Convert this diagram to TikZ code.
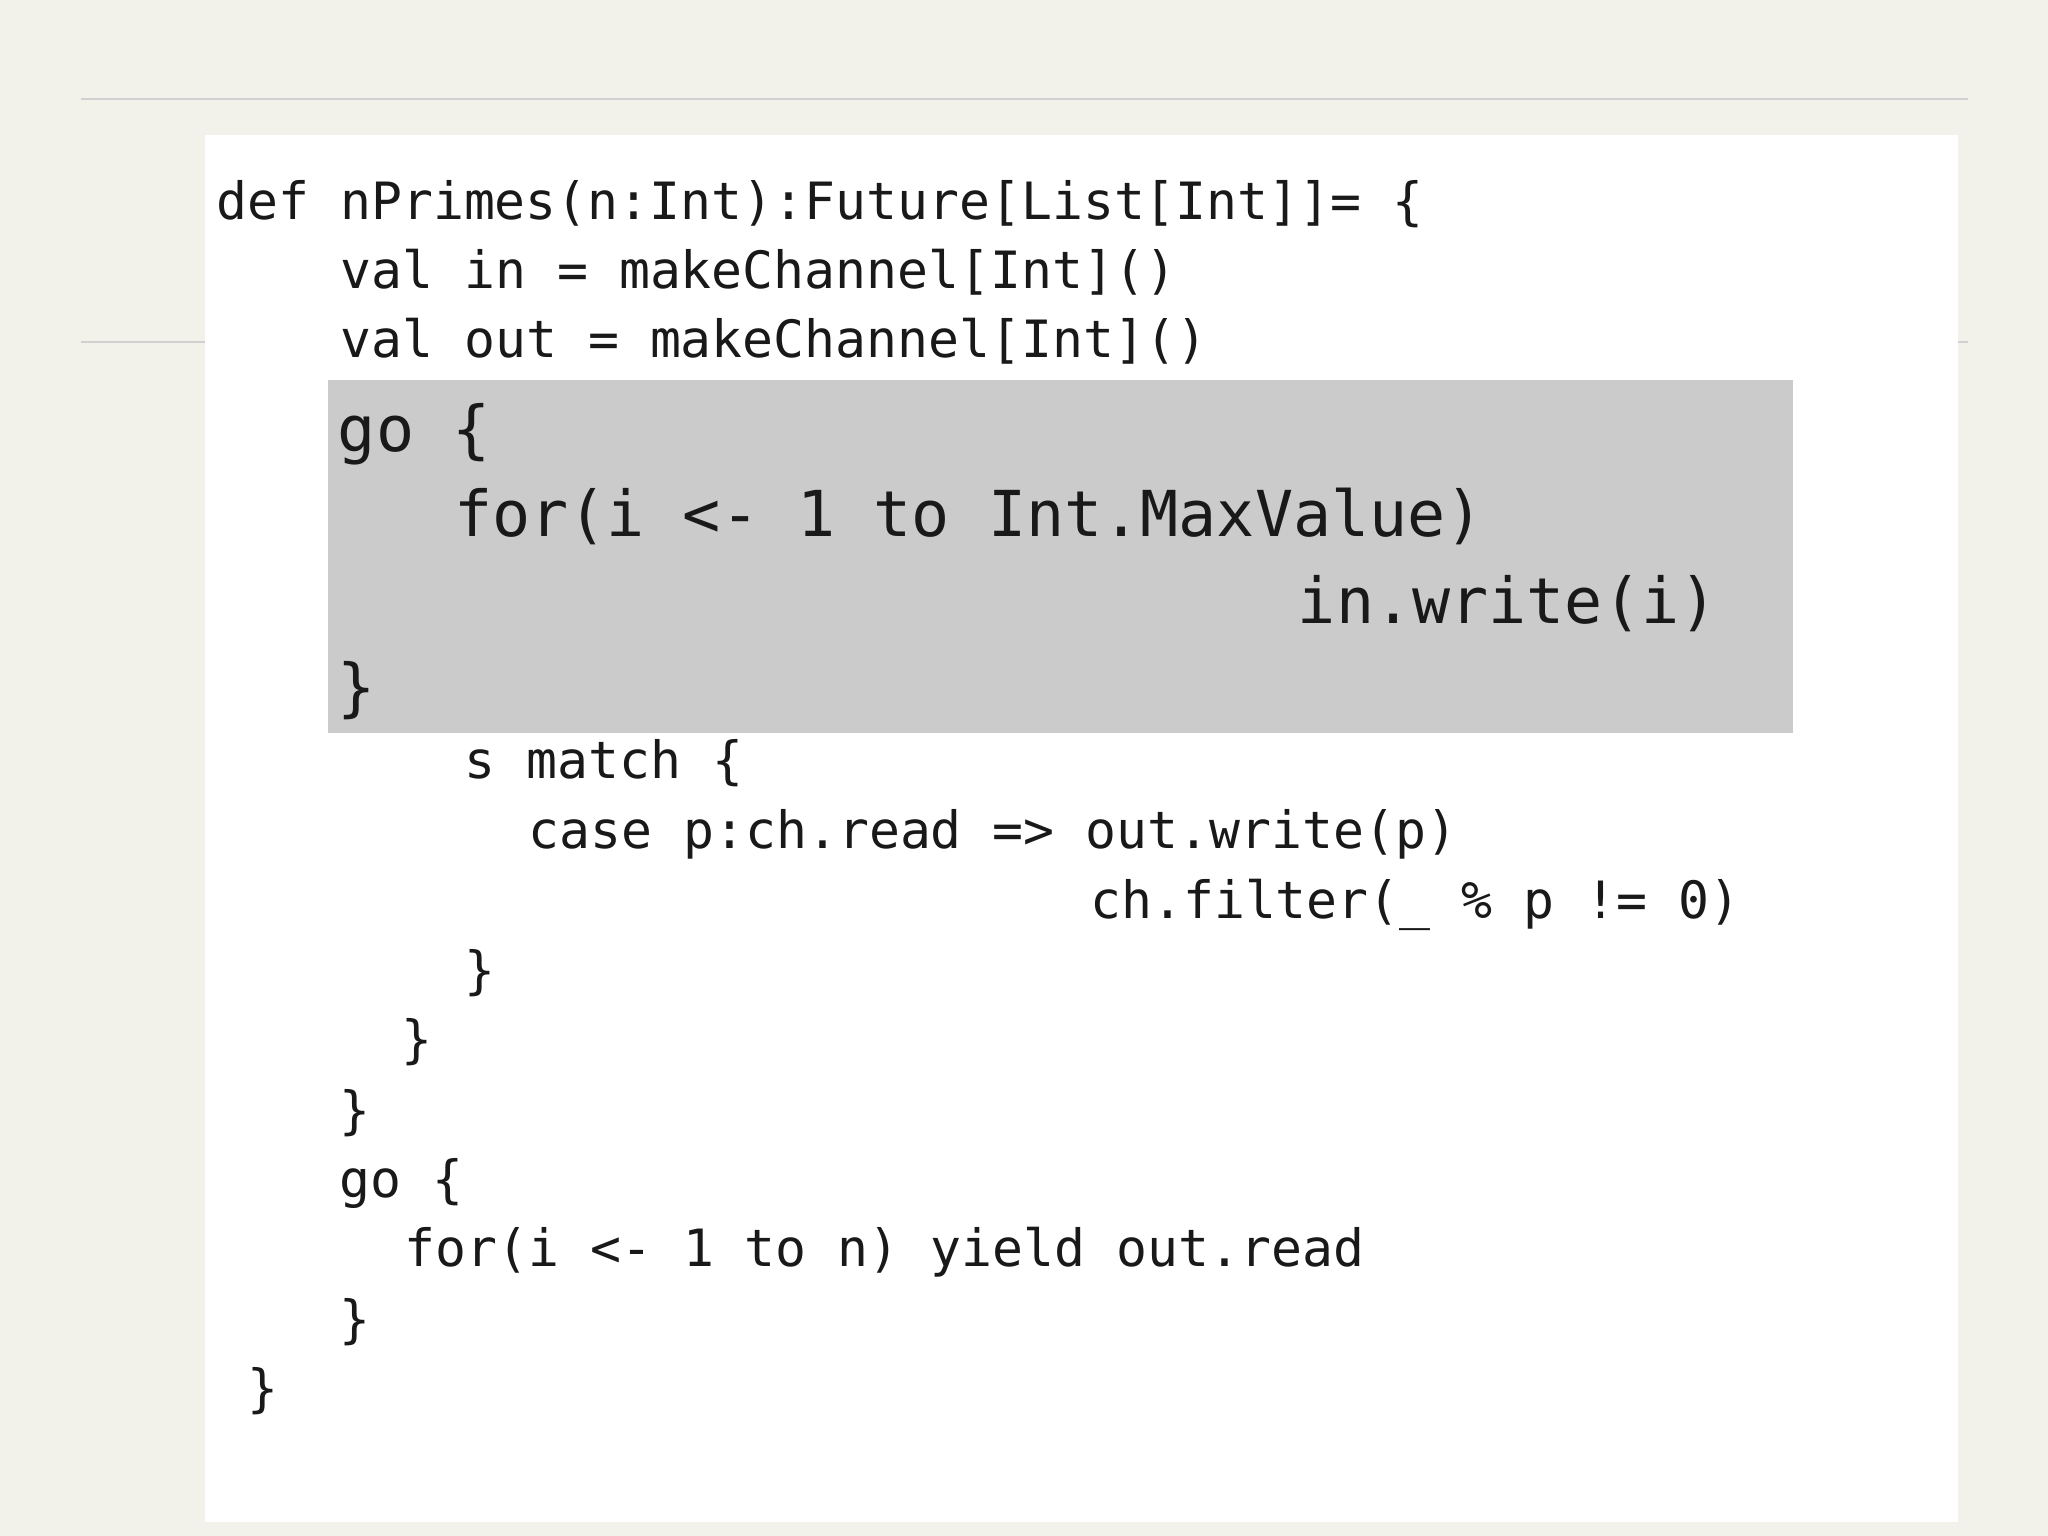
\documentclass[tikz,border=0pt]{standalone}
\usepackage{fontspec}
\setmonofont{DejaVu Sans Mono}
\begin{document}
\begin{tikzpicture}[x=1cm,y=-1cm,
  sm/.style={anchor=base west,inner sep=0pt,font=\ttfamily\fontsize{11.2pt}{13pt}\selectfont,text=black!90},
  bg/.style={anchor=base west,inner sep=0pt,font=\ttfamily\fontsize{13.8pt}{16pt}\selectfont,text=black!90}]
\definecolor{bgc}{HTML}{F2F1EA}
\definecolor{boxc}{HTML}{CBCBCB}
\useasboundingbox (0,0) rectangle (15.68,11.76);
\fill[bgc] (0,0) rectangle (15.68,11.76);
\draw[black!18,line width=0.4pt] (0.62,0.76) -- (15.07,0.76);
\draw[black!18,line width=0.4pt] (0.62,2.62) -- (15.07,2.62);
\fill[white] (1.57,1.03) rectangle (14.99,11.65);
\fill[boxc] (2.51,2.91) rectangle (13.73,5.61);
\node[sm] (l1) at (1.65,1.68) {def nPrimes(n:Int):Future[List[Int]]= \{};
\node[sm] (l2) at (2.60,2.21) {val in = makeChannel[Int]()};
\node[sm] (l3) at (2.60,2.74) {val out = makeChannel[Int]()};
\node[bg] (b1) at (2.58,3.46) {go \{};
\node[bg] (b2) at (3.47,4.11) {for(i <- 1 to Int.MaxValue)};
\node[bg] (b3) at (9.93,4.77) {in.write(i)};
\node[bg] (b4) at (2.58,5.43) {\}};
\node[sm] (l4) at (3.55,5.96) {s match \{};
\node[sm] (l5) at (4.04,6.50) {case p:ch.read => out.write(p)};
\node[sm] (l6) at (8.34,7.03) {ch.filter(\_ \% p != 0)};
\node[sm] (l7) at (3.55,7.57) {\}};
\node[sm] (l8) at (3.07,8.10) {\}};
\node[sm] (l9) at (2.59,8.64) {\}};
\node[sm] (l10) at (2.59,9.17) {go \{};
\node[sm] (l11) at (3.09,9.70) {for(i <- 1 to n) yield out.read};
\node[sm] (l12) at (2.59,10.24) {\}};
\node[sm] (l13) at (1.89,10.77) {\}};
\end{tikzpicture}
\end{document}
